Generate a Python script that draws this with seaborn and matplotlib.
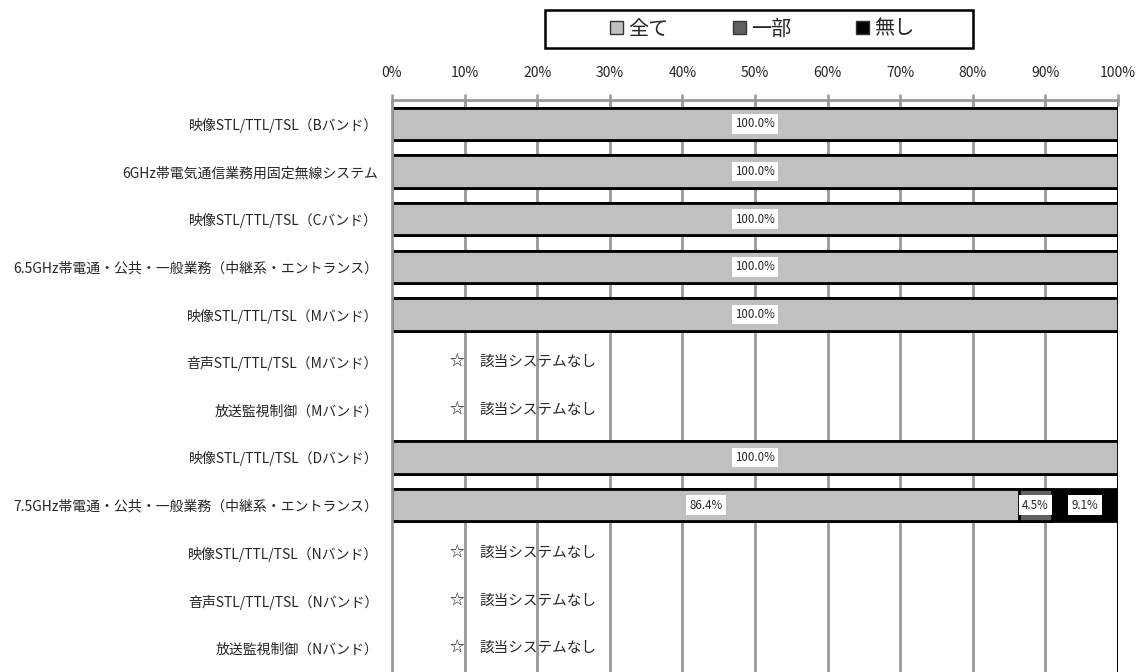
import numpy as np
import pandas as pd
import matplotlib
matplotlib.use("Agg")
import matplotlib.pyplot as plt
import seaborn as sns
from matplotlib.patches import Patch, Rectangle
from matplotlib.ticker import FixedLocator

# data
categories = [
    "映像STL/TTL/TSL（Bバンド）",
    "6GHz帯電気通信業務用固定無線システム",
    "映像STL/TTL/TSL（Cバンド）",
    "6.5GHz帯電通・公共・一般業務（中継系・エントランス）",
    "映像STL/TTL/TSL（Mバンド）",
    "音声STL/TTL/TSL（Mバンド）",
    "放送監視制御（Mバンド）",
    "映像STL/TTL/TSL（Dバンド）",
    "7.5GHz帯電通・公共・一般業務（中継系・エントランス）",
    "映像STL/TTL/TSL（Nバンド）",
    "音声STL/TTL/TSL（Nバンド）",
    "放送監視制御（Nバンド）",
]
all_pct = [100.0, 100.0, 100.0, 100.0, 100.0, np.nan, np.nan, 100.0, 86.4, np.nan, np.nan, np.nan]
part_pct = [0.0, 0.0, 0.0, 0.0, 0.0, np.nan, np.nan, 0.0, 4.5, np.nan, np.nan, np.nan]
none_pct = [0.0, 0.0, 0.0, 0.0, 0.0, np.nan, np.nan, 0.0, 9.1, np.nan, np.nan, np.nan]
series_names = ["全て", "一部", "無し"]
series_colors = ["#c0c0c0", "#606060", "#000000"]
no_system_text = "該当システムなし"

sns.set_style("white")
plt.rcParams['font.family'] = ['Noto Sans CJK JP', 'DejaVu Sans']

df = pd.DataFrame({"category": categories, "全て": all_pct, "一部": part_pct, "無し": none_pct})
df_valid = df.dropna().copy()
df_valid["c1"] = df_valid["全て"]
df_valid["c2"] = df_valid["全て"] + df_valid["一部"]
df_valid["c3"] = df_valid["c2"] + df_valid["無し"]

W, H = 1145, 672
fig = plt.figure(figsize=(W / 100, H / 100), dpi=100)
ax = fig.add_axes([392 / W, 0.0, 726 / W, 1 - 100 / H])

# grid first
for v in range(10, 101, 10):
    ax.axvline(v, color="#999999" if v < 100 else "black", lw=2 if v < 100 else 2.2, zorder=0)

# stacked bars by overplotting cumulative totals
for col, color in zip(["c3", "c2", "c1"], series_colors[::-1]):
    sns.barplot(data=df_valid, x=col, y="category", order=categories, color=color,
                edgecolor="black", linewidth=2, width=0.68, orient="h", ax=ax, zorder=2)

# value labels
for _, row in df_valid.iterrows():
    yi = categories.index(row["category"])
    left = 0.0
    for name in series_names:
        val = row[name]
        if val > 0:
            ax.text(left + val / 2, yi, f"{val:.1f}%", ha="center", va="center", fontsize=8.3,
                    bbox=dict(facecolor="white", edgecolor="none", pad=2.5), zorder=5)
        left += val

for yi, cat in enumerate(categories):
    if cat not in df_valid["category"].values:
        ax.text(8.9, yi, "☆", ha="center", va="center", fontsize=10.5, zorder=5)
        ax.text(12.1, yi, no_system_text, ha="left", va="center", fontsize=10.5, zorder=5)

ax.set_xlim(0, 100)
ax.set_ylim(len(categories) - 0.5, -0.5)
ax.set_xlabel("")
ax.set_ylabel("")
ax.set_xticks(range(0, 101, 10))
ax.set_xticklabels([f"{v}%" for v in range(0, 101, 10)])
ax.xaxis.tick_top()
ax.tick_params(axis="x", which="major", direction="inout", length=9, width=1.8, color="#999999",
               labelsize=10, pad=10)
ax.tick_params(axis="y", which="major", length=0, labelsize=10, pad=10)
ax.yaxis.set_minor_locator(FixedLocator(np.arange(-0.5, len(categories), 1.0)))
ax.tick_params(axis="y", which="minor", direction="out", length=6, width=1.8, color="#999999")

for side in ["bottom", "right"]:
    ax.spines[side].set_visible(False)
for side in ["top", "left"]:
    ax.spines[side].set_color("#999999")
    ax.spines[side].set_linewidth(2)
    ax.spines[side].set_zorder(3)

# legend: frame drawn separately, entries inside
fig.patches.append(Rectangle((545 / W, 1 - 48 / H), 428 / W, 38 / H, transform=fig.transFigure,
                             facecolor="white", edgecolor="black", linewidth=1.8, zorder=1))
handles = [Patch(facecolor=c, edgecolor="#333333", linewidth=1, label=n)
           for n, c in zip(series_names, series_colors)]
leg = fig.legend(handles=handles, loc="center", bbox_to_anchor=(762 / W, 1 - 29 / H), ncol=3,
                 fontsize=14.5, frameon=False, handlelength=0.65, handleheight=0.65,
                 handletextpad=0.25, columnspacing=3.2, borderpad=0, borderaxespad=0)
leg.set_zorder(2)

fig.savefig("out.png", dpi=100)
